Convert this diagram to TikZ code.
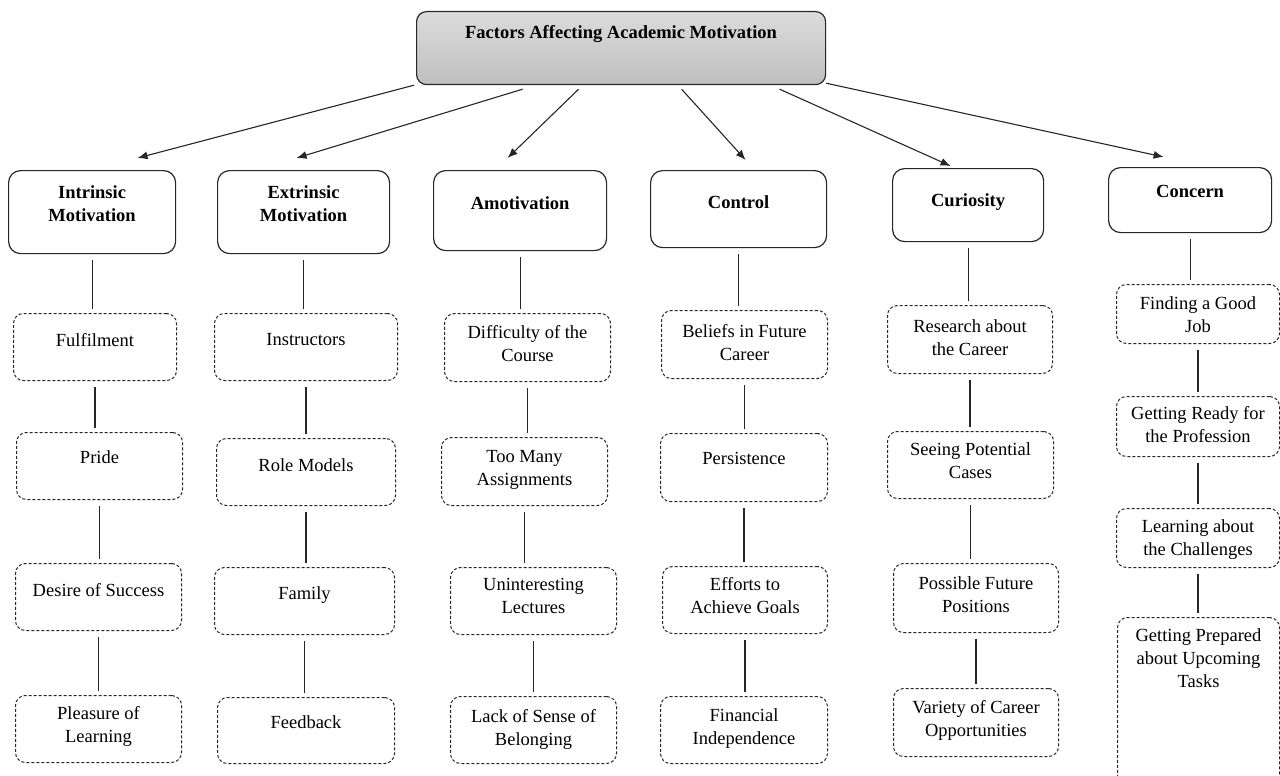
\documentclass[tikz,border=0pt]{standalone}
\usepackage{fontspec}
\setmainfont{Liberation Serif}
\usetikzlibrary{arrows.meta}

% box contents: width, height, top gap, text
\newcommand{\cell}[4]{\parbox[c][#2pt][t]{#1pt}{\centering\vspace*{#3pt}#4\par}}

\begin{document}
\begin{tikzpicture}[x=1pt, y=-1pt,
  head/.style={draw=black!85, rounded corners=10pt, line width=1.2pt,
    top color=gray!28, bottom color=gray!50, inner sep=0pt, anchor=north west,
    font=\fontsize{18.5}{23}\selectfont\bfseries},
  factor/.style={draw=black!85, rounded corners=12pt, line width=1.2pt,
    inner sep=0pt, anchor=north west, font=\fontsize{18.5}{23}\selectfont\bfseries},
  item/.style={draw=black!85, dash pattern=on 3pt off 2pt, rounded corners=10pt,
    line width=1pt, inner sep=0pt, anchor=north west,
    font=\fontsize{18.5}{23}\selectfont},
  link/.style={draw=black!85, line width=1.1pt, shorten <=6pt, shorten >=4pt},
  arrow/.style={draw=black!85, line width=1.1pt, -{Latex[length=10pt,width=8pt]}}]

  \clip (0,0) rectangle (1280,776);

  % Title
  \node[head] (top) at (416,11) {\cell{409}{73}{14}{Factors Affecting Academic Motivation}};

  % Factors
  \node[factor] (intr) at (8,170)    {\cell{167}{83}{15}{Intrinsic\\Motivation}};
  \node[factor] (extr) at (217,170)  {\cell{172}{83}{15}{Extrinsic\\Motivation}};
  \node[factor] (amot) at (433,170)  {\cell{173}{80}{26}{Amotivation}};
  \node[factor] (ctrl) at (650,170)  {\cell{176}{77}{25}{Control}};
  \node[factor] (curi) at (892,168)  {\cell{151}{73}{25}{Curiosity}};
  \node[factor] (conc) at (1108,167) {\cell{163}{65}{18}{Concern}};

  % Intrinsic Motivation
  \node[item] (fulfil)   at (13,313) {\cell{163}{67}{20}{Fulfilment}};
  \node[item] (pride)    at (16,432) {\cell{166}{67}{18}{Pride}};
  \node[item] (desire)   at (15,563) {\cell{166}{67}{20}{Desire of Success}};
  \node[item] (pleasure) at (15,695) {\cell{166}{67}{11}{Pleasure of\\Learning}};

  % Extrinsic Motivation
  \node[item] (instr)    at (214,313) {\cell{183}{67}{20}{Instructors}};
  \node[item] (role)     at (216,438) {\cell{179}{67}{20}{Role Models}};
  \node[item] (family)   at (214,567) {\cell{180}{67}{19}{Family}};
  \node[item] (feedback) at (217,697) {\cell{177}{66}{18}{Feedback}};

  % Amotivation
  \node[item] (diff)     at (444,313) {\cell{166}{68}{12}{Difficulty of the\\Course}};
  \node[item] (toomany)  at (441,437) {\cell{166}{68}{13}{Too Many\\Assignments}};
  \node[item] (lectures) at (450,567) {\cell{166}{67}{11}{Uninteresting\\Lectures}};
  \node[item] (belong)   at (450,696) {\cell{166}{67}{13}{Lack of Sense of\\Belonging}};

  % Control
  \node[item] (beliefs)  at (661,310) {\cell{166}{68}{14}{Beliefs in Future\\Career}};
  \node[item] (persist)  at (660,433) {\cell{167}{68}{19}{Persistence}};
  \node[item] (efforts)  at (662,566) {\cell{165}{67}{11}{Efforts to\\Achieve Goals}};
  \node[item] (finance)  at (660,696) {\cell{167}{67}{12}{Financial\\Independence}};

  % Curiosity
  \node[item] (research) at (887,305) {\cell{165}{68}{14}{Research about\\the Career}};
  \node[item] (seeing)   at (887,431) {\cell{166}{67}{11}{Seeing Potential\\Cases}};
  \node[item] (possible) at (893,563) {\cell{165}{69}{13}{Possible Future\\Positions}};
  \node[item] (variety)  at (893,688) {\cell{165}{68}{12}{Variety of Career\\Opportunities}};

  % Concern
  \node[item] (job)      at (1116,284) {\cell{163}{59}{12}{Finding a Good\\Job}};
  \node[item] (ready)    at (1116,396) {\cell{163}{60}{10}{Getting Ready for\\the Profession}};
  \node[item] (learn)    at (1116,508) {\cell{163}{59}{11}{Learning about\\the Challenges}};
  \node[item] (prepared) at (1117,617) {\cell{162}{173}{11}{Getting Prepared\\about Upcoming\\Tasks}};

  % Arrows from the title
  \draw[arrow] ([xshift=-2pt]top.south west) -- ([xshift=45.5pt,yshift=12pt]intr.north);
  \draw[arrow] ([xshift=-98.5pt,yshift=-4pt]top.south) -- ([xshift=-7pt,yshift=12pt]extr.north);
  \draw[arrow] ([xshift=-42.5pt,yshift=-4pt]top.south) -- ([xshift=-12.5pt,yshift=12pt]amot.north);
  \draw[arrow] ([xshift=60.5pt,yshift=-4pt]top.south) -- ([xshift=7pt,yshift=10pt]ctrl.north);
  \draw[arrow] ([xshift=158.5pt,yshift=-4pt]top.south) -- ([xshift=-17.5pt,yshift=2pt]curi.north);
  \draw[arrow] ([yshift=2pt]top.south east) -- ([xshift=-26.5pt,yshift=10pt]conc.north);

  % Links down each column
  \foreach \a/\b in {intr/fulfil, fulfil/pride, pride/desire, desire/pleasure,
                     extr/instr, instr/role, role/family, family/feedback,
                     amot/diff, diff/toomany, toomany/lectures, lectures/belong,
                     ctrl/beliefs, beliefs/persist, persist/efforts, efforts/finance,
                     curi/research, research/seeing, seeing/possible, possible/variety,
                     conc/job, job/ready, ready/learn, learn/prepared}
    \draw[link] (\a.south) -- (\a.south |- \b.north);

\end{tikzpicture}
\end{document}
